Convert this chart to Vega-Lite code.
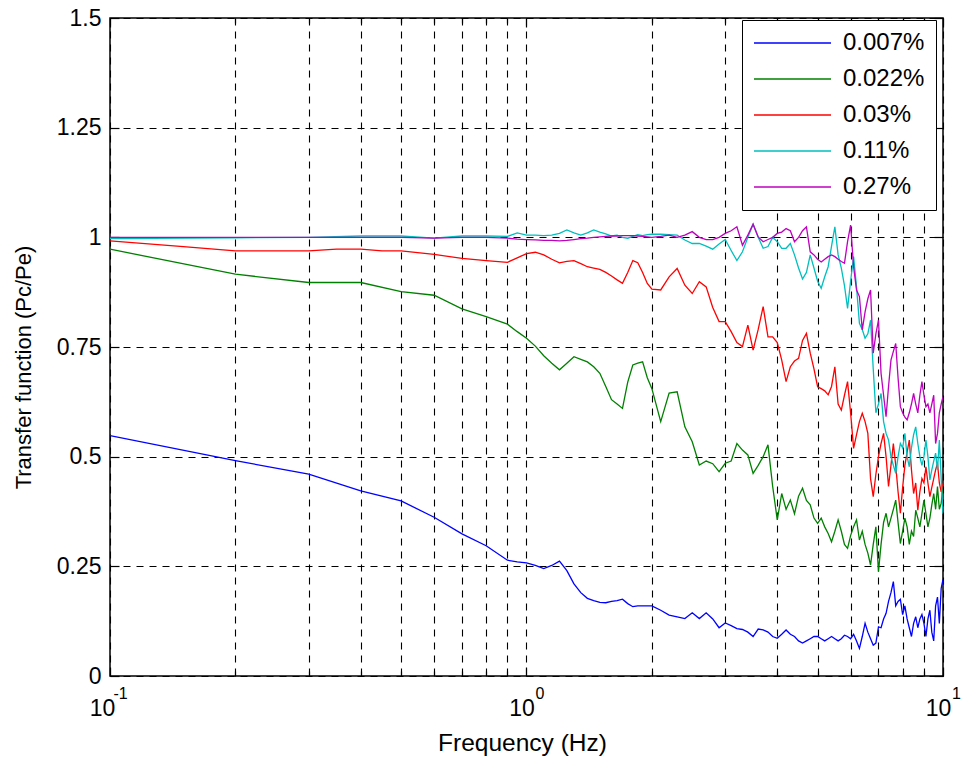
{
"$schema": "https://vega.github.io/schema/vega-lite/v6.json",
"width": 833, "height": 658,
"autosize": "none",
"padding": {"left": 110, "top": 18, "right": 20, "bottom": 85},
"background": "white",
"config": {
  "view": {"stroke": "black", "strokeWidth": 1.5},
  "font": "Liberation Sans",
  "axis": {"labelFont": "Liberation Sans", "titleFont": "Liberation Sans", "labelColor": "black", "titleColor": "black", "domain": false, "tickColor": "black", "tickWidth": 1.2, "gridColor": "black", "gridDash": [7, 6], "gridWidth": 1.1, "gridOpacity": 1, "titleFontWeight": "normal", "labelFlush": false, "labelOverlap": false}
},
"data": {"values": [
{"f":0.1,"s":"0.007%","v":0.548},{"f":0.2,"s":"0.007%","v":0.491},{"f":0.3,"s":"0.007%","v":0.46},{"f":0.4,"s":"0.007%","v":0.422},{"f":0.5,"s":"0.007%","v":0.399},{"f":0.6,"s":"0.007%","v":0.362},{"f":0.7,"s":"0.007%","v":0.324},{"f":0.8,"s":"0.007%","v":0.297},{"f":0.9,"s":"0.007%","v":0.264},{"f":0.95,"s":"0.007%","v":0.26},{"f":1.0,"s":"0.007%","v":0.258},
{"f":1.05,"s":"0.007%","v":0.252},{"f":1.1,"s":"0.007%","v":0.245},{"f":1.15,"s":"0.007%","v":0.252},{"f":1.2,"s":"0.007%","v":0.262},{"f":1.25,"s":"0.007%","v":0.24},{"f":1.3,"s":"0.007%","v":0.21},{"f":1.35,"s":"0.007%","v":0.19},{"f":1.4,"s":"0.007%","v":0.177},{"f":1.45,"s":"0.007%","v":0.172},{"f":1.5,"s":"0.007%","v":0.168},{"f":1.55,"s":"0.007%","v":0.167},{"f":1.6,"s":"0.007%","v":0.17},{"f":1.65,"s":"0.007%","v":0.172},{"f":1.7,"s":"0.007%","v":0.175},{"f":1.75,"s":"0.007%","v":0.165},{"f":1.8,"s":"0.007%","v":0.158},{"f":1.85,"s":"0.007%","v":0.16},{"f":1.9,"s":"0.007%","v":0.16},{"f":1.95,"s":"0.007%","v":0.16},
{"f":2.0,"s":"0.007%","v":0.16},{"f":2.1,"s":"0.007%","v":0.15},{"f":2.2,"s":"0.007%","v":0.139},{"f":2.3,"s":"0.007%","v":0.135},{"f":2.4,"s":"0.007%","v":0.131},{"f":2.5,"s":"0.007%","v":0.144},{"f":2.6,"s":"0.007%","v":0.131},{"f":2.7,"s":"0.007%","v":0.144},{"f":2.8,"s":"0.007%","v":0.13},{"f":2.9,"s":"0.007%","v":0.11},{"f":3.0,"s":"0.007%","v":0.121},{"f":3.1,"s":"0.007%","v":0.115},{"f":3.2,"s":"0.007%","v":0.108},{"f":3.3,"s":"0.007%","v":0.106},{"f":3.4,"s":"0.007%","v":0.1},{"f":3.5,"s":"0.007%","v":0.09},{"f":3.6,"s":"0.007%","v":0.107},{"f":3.7,"s":"0.007%","v":0.105},{"f":3.8,"s":"0.007%","v":0.1},{"f":3.9,"s":"0.007%","v":0.09},{"f":4.0,"s":"0.007%","v":0.086},{"f":4.1,"s":"0.007%","v":0.095},{"f":4.2,"s":"0.007%","v":0.105},{"f":4.3,"s":"0.007%","v":0.095},{"f":4.4,"s":"0.007%","v":0.09},{"f":4.5,"s":"0.007%","v":0.08},{"f":4.6,"s":"0.007%","v":0.075},{"f":4.7,"s":"0.007%","v":0.08},{"f":4.8,"s":"0.007%","v":0.085},{"f":4.9,"s":"0.007%","v":0.09},{"f":5.0,"s":"0.007%","v":0.09},{"f":5.1,"s":"0.007%","v":0.085},{"f":5.2,"s":"0.007%","v":0.08},{"f":5.3,"s":"0.007%","v":0.085},{"f":5.4,"s":"0.007%","v":0.09},{"f":5.5,"s":"0.007%","v":0.085},{"f":5.6,"s":"0.007%","v":0.08},{"f":5.7,"s":"0.007%","v":0.085},{"f":5.8,"s":"0.007%","v":0.093},{"f":5.9,"s":"0.007%","v":0.09},{"f":6.0,"s":"0.007%","v":0.085},{"f":6.1,"s":"0.007%","v":0.095},{"f":6.2,"s":"0.007%","v":0.08},{"f":6.3,"s":"0.007%","v":0.063},{"f":6.4,"s":"0.007%","v":0.09},{"f":6.5,"s":"0.007%","v":0.12},{"f":6.6,"s":"0.007%","v":0.1},{"f":6.7,"s":"0.007%","v":0.085},{"f":6.8,"s":"0.007%","v":0.07},{"f":6.9,"s":"0.007%","v":0.075},{"f":7.0,"s":"0.007%","v":0.112},{"f":7.1,"s":"0.007%","v":0.11},{"f":7.2,"s":"0.007%","v":0.13},{"f":7.3,"s":"0.007%","v":0.143},{"f":7.4,"s":"0.007%","v":0.17},{"f":7.5,"s":"0.007%","v":0.19},{"f":7.6,"s":"0.007%","v":0.215},{"f":7.7,"s":"0.007%","v":0.16},{"f":7.8,"s":"0.007%","v":0.17},{"f":7.9,"s":"0.007%","v":0.175},{"f":8.0,"s":"0.007%","v":0.14},{"f":8.1,"s":"0.007%","v":0.16},{"f":8.2,"s":"0.007%","v":0.13},{"f":8.3,"s":"0.007%","v":0.11},{"f":8.4,"s":"0.007%","v":0.09},{"f":8.5,"s":"0.007%","v":0.12},{"f":8.6,"s":"0.007%","v":0.135},{"f":8.7,"s":"0.007%","v":0.11},{"f":8.8,"s":"0.007%","v":0.13},{"f":8.9,"s":"0.007%","v":0.14},{"f":9.0,"s":"0.007%","v":0.12},{"f":9.1,"s":"0.007%","v":0.09},{"f":9.2,"s":"0.007%","v":0.13},{"f":9.3,"s":"0.007%","v":0.15},{"f":9.4,"s":"0.007%","v":0.1},{"f":9.5,"s":"0.007%","v":0.08},{"f":9.6,"s":"0.007%","v":0.16},{"f":9.7,"s":"0.007%","v":0.18},{"f":9.8,"s":"0.007%","v":0.12},{"f":9.9,"s":"0.007%","v":0.2},{"f":10.0,"s":"0.007%","v":0.22},

{"f":0.1,"s":"0.022%","v":0.973},{"f":0.2,"s":"0.022%","v":0.916},{"f":0.3,"s":"0.022%","v":0.897},{"f":0.4,"s":"0.022%","v":0.897},{"f":0.5,"s":"0.022%","v":0.876},{"f":0.6,"s":"0.022%","v":0.868},{"f":0.7,"s":"0.022%","v":0.837},{"f":0.8,"s":"0.022%","v":0.819},{"f":0.9,"s":"0.022%","v":0.802},{"f":0.95,"s":"0.022%","v":0.785},{"f":1.0,"s":"0.022%","v":0.77},
{"f":1.05,"s":"0.022%","v":0.752},{"f":1.1,"s":"0.022%","v":0.73},{"f":1.15,"s":"0.022%","v":0.713},{"f":1.2,"s":"0.022%","v":0.698},{"f":1.25,"s":"0.022%","v":0.713},{"f":1.3,"s":"0.022%","v":0.728},{"f":1.35,"s":"0.022%","v":0.722},{"f":1.4,"s":"0.022%","v":0.716},{"f":1.45,"s":"0.022%","v":0.705},{"f":1.5,"s":"0.022%","v":0.69},{"f":1.55,"s":"0.022%","v":0.66},{"f":1.6,"s":"0.022%","v":0.63},{"f":1.65,"s":"0.022%","v":0.62},{"f":1.7,"s":"0.022%","v":0.61},{"f":1.75,"s":"0.022%","v":0.67},{"f":1.8,"s":"0.022%","v":0.709},{"f":1.85,"s":"0.022%","v":0.713},{"f":1.9,"s":"0.022%","v":0.716},{"f":1.95,"s":"0.022%","v":0.68},
{"f":2.0,"s":"0.022%","v":0.655},{"f":2.1,"s":"0.022%","v":0.58},{"f":2.2,"s":"0.022%","v":0.645},{"f":2.3,"s":"0.022%","v":0.648},{"f":2.4,"s":"0.022%","v":0.568},{"f":2.5,"s":"0.022%","v":0.534},{"f":2.6,"s":"0.022%","v":0.481},{"f":2.7,"s":"0.022%","v":0.49},{"f":2.8,"s":"0.022%","v":0.484},{"f":2.9,"s":"0.022%","v":0.466},{"f":3.0,"s":"0.022%","v":0.485},{"f":3.1,"s":"0.022%","v":0.49},{"f":3.2,"s":"0.022%","v":0.53},{"f":3.3,"s":"0.022%","v":0.515},{"f":3.4,"s":"0.022%","v":0.504},{"f":3.5,"s":"0.022%","v":0.462},{"f":3.6,"s":"0.022%","v":0.48},{"f":3.7,"s":"0.022%","v":0.5},{"f":3.8,"s":"0.022%","v":0.527},{"f":3.9,"s":"0.022%","v":0.432},{"f":4.0,"s":"0.022%","v":0.356},{"f":4.1,"s":"0.022%","v":0.416},{"f":4.2,"s":"0.022%","v":0.38},{"f":4.3,"s":"0.022%","v":0.401},{"f":4.4,"s":"0.022%","v":0.37},{"f":4.5,"s":"0.022%","v":0.41},{"f":4.6,"s":"0.022%","v":0.428},{"f":4.7,"s":"0.022%","v":0.4},{"f":4.8,"s":"0.022%","v":0.39},{"f":4.9,"s":"0.022%","v":0.36},{"f":5.0,"s":"0.022%","v":0.348},{"f":5.1,"s":"0.022%","v":0.36},{"f":5.2,"s":"0.022%","v":0.34},{"f":5.3,"s":"0.022%","v":0.325},{"f":5.4,"s":"0.022%","v":0.306},{"f":5.5,"s":"0.022%","v":0.33},{"f":5.6,"s":"0.022%","v":0.356},{"f":5.7,"s":"0.022%","v":0.33},{"f":5.8,"s":"0.022%","v":0.3},{"f":5.9,"s":"0.022%","v":0.291},{"f":6.0,"s":"0.022%","v":0.32},{"f":6.1,"s":"0.022%","v":0.34},{"f":6.2,"s":"0.022%","v":0.356},{"f":6.3,"s":"0.022%","v":0.31},{"f":6.4,"s":"0.022%","v":0.33},{"f":6.5,"s":"0.022%","v":0.3},{"f":6.6,"s":"0.022%","v":0.28},{"f":6.7,"s":"0.022%","v":0.253},{"f":6.8,"s":"0.022%","v":0.3},{"f":6.9,"s":"0.022%","v":0.34},{"f":7.0,"s":"0.022%","v":0.238},{"f":7.1,"s":"0.022%","v":0.3},{"f":7.2,"s":"0.022%","v":0.35},{"f":7.3,"s":"0.022%","v":0.371},{"f":7.4,"s":"0.022%","v":0.34},{"f":7.5,"s":"0.022%","v":0.36},{"f":7.6,"s":"0.022%","v":0.38},{"f":7.7,"s":"0.022%","v":0.401},{"f":7.8,"s":"0.022%","v":0.35},{"f":7.9,"s":"0.022%","v":0.302},{"f":8.0,"s":"0.022%","v":0.33},{"f":8.1,"s":"0.022%","v":0.36},{"f":8.2,"s":"0.022%","v":0.34},{"f":8.3,"s":"0.022%","v":0.3},{"f":8.4,"s":"0.022%","v":0.33},{"f":8.5,"s":"0.022%","v":0.318},{"f":8.6,"s":"0.022%","v":0.378},{"f":8.7,"s":"0.022%","v":0.36},{"f":8.8,"s":"0.022%","v":0.34},{"f":8.9,"s":"0.022%","v":0.37},{"f":9.0,"s":"0.022%","v":0.401},{"f":9.1,"s":"0.022%","v":0.37},{"f":9.2,"s":"0.022%","v":0.34},{"f":9.3,"s":"0.022%","v":0.36},{"f":9.4,"s":"0.022%","v":0.39},{"f":9.5,"s":"0.022%","v":0.416},{"f":9.6,"s":"0.022%","v":0.38},{"f":9.7,"s":"0.022%","v":0.432},{"f":9.8,"s":"0.022%","v":0.38},{"f":9.9,"s":"0.022%","v":0.394},{"f":10.0,"s":"0.022%","v":0.432},

{"f":0.1,"s":"0.03%","v":0.992},{"f":0.15,"s":"0.03%","v":0.979},{"f":0.2,"s":"0.03%","v":0.969},{"f":0.3,"s":"0.03%","v":0.969},{"f":0.35,"s":"0.03%","v":0.973},{"f":0.4,"s":"0.03%","v":0.973},{"f":0.45,"s":"0.03%","v":0.969},{"f":0.5,"s":"0.03%","v":0.969},{"f":0.6,"s":"0.03%","v":0.961},{"f":0.7,"s":"0.03%","v":0.952},{"f":0.8,"s":"0.03%","v":0.947},{"f":0.9,"s":"0.03%","v":0.943},{"f":0.95,"s":"0.03%","v":0.953},{"f":1.0,"s":"0.03%","v":0.963},
{"f":1.05,"s":"0.03%","v":0.966},{"f":1.1,"s":"0.03%","v":0.96},{"f":1.15,"s":"0.03%","v":0.95},{"f":1.2,"s":"0.03%","v":0.942},{"f":1.25,"s":"0.03%","v":0.945},{"f":1.3,"s":"0.03%","v":0.947},{"f":1.35,"s":"0.03%","v":0.94},{"f":1.4,"s":"0.03%","v":0.933},{"f":1.45,"s":"0.03%","v":0.93},{"f":1.5,"s":"0.03%","v":0.927},{"f":1.55,"s":"0.03%","v":0.92},{"f":1.6,"s":"0.03%","v":0.912},{"f":1.65,"s":"0.03%","v":0.903},{"f":1.7,"s":"0.03%","v":0.895},{"f":1.75,"s":"0.03%","v":0.92},{"f":1.8,"s":"0.03%","v":0.947},{"f":1.85,"s":"0.03%","v":0.942},{"f":1.9,"s":"0.03%","v":0.92},{"f":1.95,"s":"0.03%","v":0.895},
{"f":2.0,"s":"0.03%","v":0.882},{"f":2.1,"s":"0.03%","v":0.88},{"f":2.2,"s":"0.03%","v":0.91},{"f":2.3,"s":"0.03%","v":0.929},{"f":2.4,"s":"0.03%","v":0.891},{"f":2.5,"s":"0.03%","v":0.872},{"f":2.6,"s":"0.03%","v":0.899},{"f":2.7,"s":"0.03%","v":0.887},{"f":2.8,"s":"0.03%","v":0.84},{"f":2.9,"s":"0.03%","v":0.808},{"f":3.0,"s":"0.03%","v":0.808},{"f":3.1,"s":"0.03%","v":0.785},{"f":3.2,"s":"0.03%","v":0.76},{"f":3.3,"s":"0.03%","v":0.751},{"f":3.4,"s":"0.03%","v":0.8},{"f":3.5,"s":"0.03%","v":0.743},{"f":3.6,"s":"0.03%","v":0.79},{"f":3.7,"s":"0.03%","v":0.842},{"f":3.8,"s":"0.03%","v":0.773},{"f":3.9,"s":"0.03%","v":0.773},{"f":4.0,"s":"0.03%","v":0.76},{"f":4.1,"s":"0.03%","v":0.72},{"f":4.2,"s":"0.03%","v":0.671},{"f":4.3,"s":"0.03%","v":0.705},{"f":4.4,"s":"0.03%","v":0.718},{"f":4.5,"s":"0.03%","v":0.724},{"f":4.6,"s":"0.03%","v":0.765},{"f":4.7,"s":"0.03%","v":0.781},{"f":4.8,"s":"0.03%","v":0.736},{"f":4.9,"s":"0.03%","v":0.7},{"f":5.0,"s":"0.03%","v":0.659},{"f":5.1,"s":"0.03%","v":0.655},{"f":5.2,"s":"0.03%","v":0.65},{"f":5.3,"s":"0.03%","v":0.641},{"f":5.4,"s":"0.03%","v":0.66},{"f":5.5,"s":"0.03%","v":0.705},{"f":5.6,"s":"0.03%","v":0.62},{"f":5.7,"s":"0.03%","v":0.606},{"f":5.8,"s":"0.03%","v":0.64},{"f":5.9,"s":"0.03%","v":0.671},{"f":6.0,"s":"0.03%","v":0.6},{"f":6.1,"s":"0.03%","v":0.519},{"f":6.2,"s":"0.03%","v":0.55},{"f":6.3,"s":"0.03%","v":0.58},{"f":6.4,"s":"0.03%","v":0.599},{"f":6.5,"s":"0.03%","v":0.58},{"f":6.6,"s":"0.03%","v":0.553},{"f":6.7,"s":"0.03%","v":0.45},{"f":6.8,"s":"0.03%","v":0.409},{"f":6.9,"s":"0.03%","v":0.46},{"f":7.0,"s":"0.03%","v":0.5},{"f":7.1,"s":"0.03%","v":0.53},{"f":7.2,"s":"0.03%","v":0.553},{"f":7.3,"s":"0.03%","v":0.5},{"f":7.4,"s":"0.03%","v":0.432},{"f":7.5,"s":"0.03%","v":0.48},{"f":7.6,"s":"0.03%","v":0.53},{"f":7.7,"s":"0.03%","v":0.48},{"f":7.8,"s":"0.03%","v":0.42},{"f":7.9,"s":"0.03%","v":0.371},{"f":8.0,"s":"0.03%","v":0.43},{"f":8.1,"s":"0.03%","v":0.48},{"f":8.2,"s":"0.03%","v":0.51},{"f":8.3,"s":"0.03%","v":0.538},{"f":8.4,"s":"0.03%","v":0.47},{"f":8.5,"s":"0.03%","v":0.416},{"f":8.6,"s":"0.03%","v":0.44},{"f":8.7,"s":"0.03%","v":0.378},{"f":8.8,"s":"0.03%","v":0.42},{"f":8.9,"s":"0.03%","v":0.45},{"f":9.0,"s":"0.03%","v":0.44},{"f":9.1,"s":"0.03%","v":0.477},{"f":9.2,"s":"0.03%","v":0.44},{"f":9.3,"s":"0.03%","v":0.409},{"f":9.4,"s":"0.03%","v":0.43},{"f":9.5,"s":"0.03%","v":0.45},{"f":9.6,"s":"0.03%","v":0.47},{"f":9.7,"s":"0.03%","v":0.485},{"f":9.8,"s":"0.03%","v":0.44},{"f":9.9,"s":"0.03%","v":0.42},{"f":10.0,"s":"0.03%","v":0.44},

{"f":0.1,"s":"0.11%","v":0.997},{"f":0.2,"s":"0.11%","v":0.999},{"f":0.3,"s":"0.11%","v":1.0},{"f":0.4,"s":"0.11%","v":1.003},{"f":0.5,"s":"0.11%","v":1.003},{"f":0.6,"s":"0.11%","v":0.998},{"f":0.7,"s":"0.11%","v":1.003},{"f":0.8,"s":"0.11%","v":1.003},{"f":0.9,"s":"0.11%","v":1.002},{"f":0.95,"s":"0.11%","v":1.01},{"f":1.0,"s":"0.11%","v":1.005},
{"f":1.05,"s":"0.11%","v":1.005},{"f":1.1,"s":"0.11%","v":1.004},{"f":1.15,"s":"0.11%","v":1.005},{"f":1.2,"s":"0.11%","v":1.009},{"f":1.25,"s":"0.11%","v":1.017},{"f":1.3,"s":"0.11%","v":1.01},{"f":1.35,"s":"0.11%","v":1.005},{"f":1.4,"s":"0.11%","v":1.01},{"f":1.45,"s":"0.11%","v":1.017},{"f":1.5,"s":"0.11%","v":1.012},{"f":1.55,"s":"0.11%","v":1.008},{"f":1.6,"s":"0.11%","v":1.003},{"f":1.65,"s":"0.11%","v":1.005},{"f":1.7,"s":"0.11%","v":1.0},{"f":1.75,"s":"0.11%","v":0.998},{"f":1.8,"s":"0.11%","v":1.002},{"f":1.85,"s":"0.11%","v":1.006},{"f":1.9,"s":"0.11%","v":1.004},{"f":1.95,"s":"0.11%","v":1.006},
{"f":2.0,"s":"0.11%","v":1.007},{"f":2.1,"s":"0.11%","v":1.007},{"f":2.2,"s":"0.11%","v":1.006},{"f":2.3,"s":"0.11%","v":1.005},{"f":2.4,"s":"0.11%","v":0.994},{"f":2.5,"s":"0.11%","v":0.986},{"f":2.6,"s":"0.11%","v":0.986},{"f":2.7,"s":"0.11%","v":0.98},{"f":2.8,"s":"0.11%","v":0.973},{"f":2.9,"s":"0.11%","v":0.985},{"f":3.0,"s":"0.11%","v":0.995},{"f":3.1,"s":"0.11%","v":0.97},{"f":3.2,"s":"0.11%","v":0.947},{"f":3.3,"s":"0.11%","v":0.967},{"f":3.4,"s":"0.11%","v":1.0},{"f":3.5,"s":"0.11%","v":1.03},{"f":3.6,"s":"0.11%","v":1.0},{"f":3.7,"s":"0.11%","v":0.975},{"f":3.8,"s":"0.11%","v":0.979},{"f":3.9,"s":"0.11%","v":1.0},{"f":4.0,"s":"0.11%","v":0.99},{"f":4.1,"s":"0.11%","v":0.975},{"f":4.2,"s":"0.11%","v":0.975},{"f":4.3,"s":"0.11%","v":0.986},{"f":4.4,"s":"0.11%","v":0.96},{"f":4.5,"s":"0.11%","v":0.93},{"f":4.6,"s":"0.11%","v":0.905},{"f":4.7,"s":"0.11%","v":0.92},{"f":4.8,"s":"0.11%","v":0.96},{"f":4.9,"s":"0.11%","v":0.93},{"f":5.0,"s":"0.11%","v":0.9},{"f":5.1,"s":"0.11%","v":0.884},{"f":5.2,"s":"0.11%","v":0.91},{"f":5.3,"s":"0.11%","v":0.933},{"f":5.4,"s":"0.11%","v":0.98},{"f":5.5,"s":"0.11%","v":1.024},{"f":5.6,"s":"0.11%","v":0.96},{"f":5.7,"s":"0.11%","v":0.93},{"f":5.8,"s":"0.11%","v":0.89},{"f":5.9,"s":"0.11%","v":0.838},{"f":6.0,"s":"0.11%","v":0.9},{"f":6.1,"s":"0.11%","v":0.956},{"f":6.2,"s":"0.11%","v":0.887},{"f":6.3,"s":"0.11%","v":0.804},{"f":6.4,"s":"0.11%","v":0.79},{"f":6.5,"s":"0.11%","v":0.77},{"f":6.6,"s":"0.11%","v":0.78},{"f":6.7,"s":"0.11%","v":0.811},{"f":6.8,"s":"0.11%","v":0.7},{"f":6.9,"s":"0.11%","v":0.6},{"f":7.0,"s":"0.11%","v":0.62},{"f":7.1,"s":"0.11%","v":0.644},{"f":7.2,"s":"0.11%","v":0.58},{"f":7.3,"s":"0.11%","v":0.553},{"f":7.4,"s":"0.11%","v":0.538},{"f":7.5,"s":"0.11%","v":0.5},{"f":7.6,"s":"0.11%","v":0.48},{"f":7.7,"s":"0.11%","v":0.462},{"f":7.8,"s":"0.11%","v":0.5},{"f":7.9,"s":"0.11%","v":0.53},{"f":8.0,"s":"0.11%","v":0.52},{"f":8.1,"s":"0.11%","v":0.553},{"f":8.2,"s":"0.11%","v":0.5},{"f":8.3,"s":"0.11%","v":0.477},{"f":8.4,"s":"0.11%","v":0.52},{"f":8.5,"s":"0.11%","v":0.55},{"f":8.6,"s":"0.11%","v":0.568},{"f":8.7,"s":"0.11%","v":0.53},{"f":8.8,"s":"0.11%","v":0.5},{"f":8.9,"s":"0.11%","v":0.48},{"f":9.0,"s":"0.11%","v":0.5},{"f":9.1,"s":"0.11%","v":0.538},{"f":9.2,"s":"0.11%","v":0.5},{"f":9.3,"s":"0.11%","v":0.447},{"f":9.4,"s":"0.11%","v":0.47},{"f":9.5,"s":"0.11%","v":0.49},{"f":9.6,"s":"0.11%","v":0.508},{"f":9.7,"s":"0.11%","v":0.47},{"f":9.8,"s":"0.11%","v":0.538},{"f":9.9,"s":"0.11%","v":0.45},{"f":10.0,"s":"0.11%","v":0.37},

{"f":0.1,"s":"0.27%","v":1.0},{"f":0.2,"s":"0.27%","v":1.0},{"f":0.3,"s":"0.27%","v":1.0},{"f":0.4,"s":"0.27%","v":1.0},{"f":0.5,"s":"0.27%","v":1.0},{"f":0.6,"s":"0.27%","v":0.998},{"f":0.7,"s":"0.27%","v":1.0},{"f":0.8,"s":"0.27%","v":1.0},{"f":0.9,"s":"0.27%","v":0.998},{"f":0.95,"s":"0.27%","v":0.996},{"f":1.0,"s":"0.27%","v":0.995},
{"f":1.05,"s":"0.27%","v":0.994},{"f":1.1,"s":"0.27%","v":0.993},{"f":1.15,"s":"0.27%","v":0.993},{"f":1.2,"s":"0.27%","v":0.992},{"f":1.25,"s":"0.27%","v":0.993},{"f":1.3,"s":"0.27%","v":0.995},{"f":1.35,"s":"0.27%","v":0.997},{"f":1.4,"s":"0.27%","v":0.998},{"f":1.45,"s":"0.27%","v":1.0},{"f":1.5,"s":"0.27%","v":1.001},{"f":1.55,"s":"0.27%","v":1.002},{"f":1.6,"s":"0.27%","v":1.003},{"f":1.65,"s":"0.27%","v":1.003},{"f":1.7,"s":"0.27%","v":1.004},{"f":1.75,"s":"0.27%","v":1.004},{"f":1.8,"s":"0.27%","v":1.004},{"f":1.85,"s":"0.27%","v":1.003},{"f":1.9,"s":"0.27%","v":1.002},{"f":1.95,"s":"0.27%","v":1.001},
{"f":2.0,"s":"0.27%","v":1.0},{"f":2.1,"s":"0.27%","v":1.002},{"f":2.2,"s":"0.27%","v":1.005},{"f":2.3,"s":"0.27%","v":1.0},{"f":2.4,"s":"0.27%","v":1.005},{"f":2.5,"s":"0.27%","v":1.013},{"f":2.6,"s":"0.27%","v":1.0},{"f":2.7,"s":"0.27%","v":0.995},{"f":2.8,"s":"0.27%","v":0.995},{"f":2.9,"s":"0.27%","v":1.0},{"f":3.0,"s":"0.27%","v":1.009},{"f":3.1,"s":"0.27%","v":1.015},{"f":3.2,"s":"0.27%","v":1.024},{"f":3.3,"s":"0.27%","v":0.982},{"f":3.4,"s":"0.27%","v":1.005},{"f":3.5,"s":"0.27%","v":1.03},{"f":3.6,"s":"0.27%","v":1.001},{"f":3.7,"s":"0.27%","v":0.99},{"f":3.8,"s":"0.27%","v":0.995},{"f":3.9,"s":"0.27%","v":1.0},{"f":4.0,"s":"0.27%","v":1.009},{"f":4.1,"s":"0.27%","v":1.012},{"f":4.2,"s":"0.27%","v":1.02},{"f":4.3,"s":"0.27%","v":1.015},{"f":4.4,"s":"0.27%","v":0.99},{"f":4.5,"s":"0.27%","v":1.0},{"f":4.6,"s":"0.27%","v":1.015},{"f":4.7,"s":"0.27%","v":1.024},{"f":4.8,"s":"0.27%","v":0.967},{"f":4.9,"s":"0.27%","v":0.96},{"f":5.0,"s":"0.27%","v":0.95},{"f":5.1,"s":"0.27%","v":0.944},{"f":5.2,"s":"0.27%","v":0.95},{"f":5.3,"s":"0.27%","v":0.956},{"f":5.4,"s":"0.27%","v":0.96},{"f":5.5,"s":"0.27%","v":0.956},{"f":5.6,"s":"0.27%","v":0.95},{"f":5.7,"s":"0.27%","v":0.945},{"f":5.8,"s":"0.27%","v":0.941},{"f":5.9,"s":"0.27%","v":0.99},{"f":6.0,"s":"0.27%","v":1.028},{"f":6.1,"s":"0.27%","v":0.933},{"f":6.2,"s":"0.27%","v":0.88},{"f":6.3,"s":"0.27%","v":0.865},{"f":6.4,"s":"0.27%","v":0.789},{"f":6.5,"s":"0.27%","v":0.83},{"f":6.6,"s":"0.27%","v":0.86},{"f":6.7,"s":"0.27%","v":0.88},{"f":6.8,"s":"0.27%","v":0.736},{"f":6.9,"s":"0.27%","v":0.78},{"f":7.0,"s":"0.27%","v":0.811},{"f":7.1,"s":"0.27%","v":0.69},{"f":7.2,"s":"0.27%","v":0.64},{"f":7.3,"s":"0.27%","v":0.591},{"f":7.4,"s":"0.27%","v":0.66},{"f":7.5,"s":"0.27%","v":0.72},{"f":7.6,"s":"0.27%","v":0.74},{"f":7.7,"s":"0.27%","v":0.758},{"f":7.8,"s":"0.27%","v":0.68},{"f":7.9,"s":"0.27%","v":0.614},{"f":8.0,"s":"0.27%","v":0.6},{"f":8.1,"s":"0.27%","v":0.59},{"f":8.2,"s":"0.27%","v":0.584},{"f":8.3,"s":"0.27%","v":0.6},{"f":8.4,"s":"0.27%","v":0.62},{"f":8.5,"s":"0.27%","v":0.644},{"f":8.6,"s":"0.27%","v":0.62},{"f":8.7,"s":"0.27%","v":0.6},{"f":8.8,"s":"0.27%","v":0.64},{"f":8.9,"s":"0.27%","v":0.671},{"f":9.0,"s":"0.27%","v":0.64},{"f":9.1,"s":"0.27%","v":0.614},{"f":9.2,"s":"0.27%","v":0.62},{"f":9.3,"s":"0.27%","v":0.6},{"f":9.4,"s":"0.27%","v":0.62},{"f":9.5,"s":"0.27%","v":0.64},{"f":9.6,"s":"0.27%","v":0.53},{"f":9.7,"s":"0.27%","v":0.553},{"f":9.8,"s":"0.27%","v":0.6},{"f":9.9,"s":"0.27%","v":0.62},{"f":10.0,"s":"0.27%","v":0.637}
]},
"layer": [
  {
    "mark": {"type": "line", "strokeWidth": 1.3, "clip": true},
    "encoding": {
      "x": {"field": "f", "type": "quantitative",
        "scale": {"type": "log", "domain": [0.1, 10], "nice": false},
        "axis": {"orient": "bottom", "values": [0.1,0.2,0.3,0.4,0.5,0.6,0.7,0.8,0.9,1,2,3,4,5,6,7,8,9,10], "labels": false, "ticks": true,
          "tickSize": {"condition": {"test": "datum.value === 0.1 || datum.value === 1 || datum.value === 10", "value": -9}, "value": -5},
          "grid": true, "title": null}},
      "y": {"field": "v", "type": "quantitative",
        "scale": {"domain": [0, 1.5], "nice": false, "zero": false},
        "axis": {"orient": "left", "values": [0, 0.25, 0.5, 0.75, 1, 1.25, 1.5], "labels": false, "ticks": true, "tickSize": -9, "grid": true,
          "title": "Transfer function (Pc/Pe)", "titleFontSize": 22, "titleX": -80, "titleY": 349, "titleAngle": 270, "titleBaseline": "alphabetic", "titleAlign": "center"}},
      "color": {"field": "s", "type": "nominal",
        "scale": {"domain": ["0.007%", "0.022%", "0.03%", "0.11%", "0.27%"], "range": ["#0000FF", "#008000", "#FF0000", "#00BFBF", "#BF00BF"]},
        "legend": {"orient": "none", "legendX": 632, "legendY": 2, "title": null, "symbolType": "stroke", "symbolSize": 5929, "symbolStrokeWidth": 1.5,
          "clipHeight": 24, "rowPadding": 12, "labelOffset": 11, "padding": 11, "labelFontSize": 24, "labelFont": "Liberation Sans", "labelColor": "black",
          "strokeColor": "black", "fillColor": "white", "labelLimit": 300, "labelBaseline": "middle"}}
    }
  },
  {
    "mark": {"type": "line", "opacity": 0},
    "encoding": {
      "x": {"field": "f", "type": "quantitative",
        "axis": {"orient": "bottom", "values": [0.1, 1, 10], "ticks": false, "grid": false, "labelExpr": "'10'", "labelFontSize": 23,
          "labelBaseline": "alphabetic", "labelPadding": 39,
          "labelOffset": {"condition": {"test": "datum.value < 0.5", "value": -8}, "value": -5},
          "title": "Frequency (Hz)", "titleFontSize": 24.5, "titleX": 412, "titleY": 74, "titleBaseline": "alphabetic", "titleAlign": "center"}},
      "y": {"field": "v", "type": "quantitative",
        "axis": {"orient": "left", "values": [0, 0.25, 0.5, 0.75, 1, 1.25, 1.5], "labelExpr": "'' + datum.value", "ticks": false, "grid": false, "labelFontSize": 23, "labelPadding": 9, "title": null}}
    }
  },
  {
    "mark": {"type": "line", "opacity": 0},
    "encoding": {
      "x": {"field": "f", "type": "quantitative",
        "axis": {"orient": "bottom", "values": [0.1, 1, 10], "ticks": false, "grid": false,
          "labelExpr": "datum.value < 0.5 ? '-1' : (datum.value < 5 ? '0' : '1')", "labelFontSize": 16, "labelAlign": "left",
          "labelBaseline": "alphabetic", "labelPadding": 22,
          "labelOffset": {"condition": {"test": "datum.value < 0.5", "value": 3}, "value": 8.5},
          "title": null}},
      "y": {"field": "v", "type": "quantitative",
        "axis": {"orient": "right", "values": [0, 0.25, 0.5, 0.75, 1, 1.25, 1.5], "ticks": true, "tickSize": -9, "labels": false, "grid": false, "title": null}}
    }
  },
  {
    "mark": {"type": "line", "opacity": 0},
    "encoding": {
      "x": {"field": "f", "type": "quantitative",
        "axis": {"orient": "top", "values": [0.1,0.2,0.3,0.4,0.5,0.6,0.7,0.8,0.9,1,2,3,4,5,6,7,8,9,10], "labels": false, "ticks": true,
          "tickSize": {"condition": {"test": "datum.value === 0.1 || datum.value === 1 || datum.value === 10", "value": -9}, "value": -5},
          "grid": false, "title": null}},
      "y": {"field": "v", "type": "quantitative", "axis": null}
    }
  }
],
"resolve": {"axis": {"x": "independent", "y": "independent"}}
}
